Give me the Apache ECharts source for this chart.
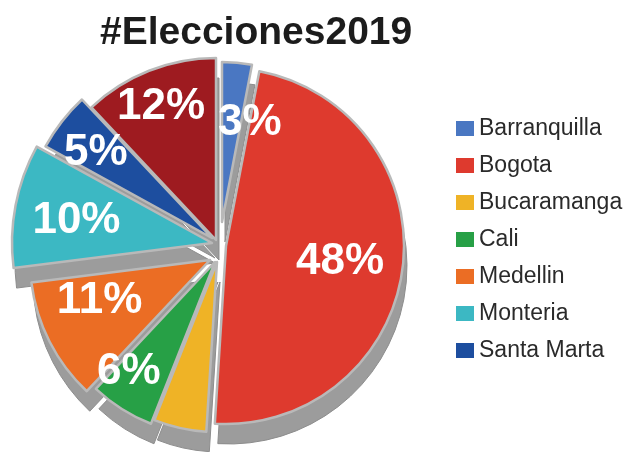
<!DOCTYPE html>
<html>
<head>
<meta charset="utf-8">
<script src="https://cdn.jsdelivr.net/npm/echarts@6/dist/echarts.min.js"></script>
<style>
  html, body { margin: 0; padding: 0; background: #ffffff; }
  #chart { width: 628px; height: 452px; }
</style>
</head>
<body>
<div id="chart"></div>
<script>
// Vote share per city, listed clockwise from 12 o'clock
const cities = ['Barranquilla', 'Bogota', 'Bucaramanga', 'Cali', 'Medellin', 'Monteria', 'Santa Marta', 'Otros'];
const shares = [3, 48, 5, 6, 11, 10, 5, 12];
const legendCities = ['Barranquilla', 'Bogota', 'Bucaramanga', 'Cali', 'Medellin', 'Monteria', 'Santa Marta'];
const colors = ['#4a77c2', '#de3a2e', '#efb326', '#27a046', '#eb6d24', '#3cb8c3', '#1d4e9f', '#9e1b20'];

// Exploded, tilted look: every wedge has its own centre and radius,
// its label sits on a separate ring (centre + distance from that centre)
const wedgeLayout = [
  { c: [222, 222], r: 160, lc: [240, 227], d: 102 },
  { c: [226, 246], r: 178, lc: [224, 247], d: 114 },
  { c: [217, 262], r: 170, lc: [217, 263], d: 141 },
  { c: [215, 262], r: 174, lc: [200, 260], d: 130 },
  { c: [210, 260], r: 180, lc: [210, 245], d: 121 },
  { c: [212, 243], r: 200, lc: [212, 247], d: 135 },
  { c: [212, 238], r: 190, lc: [212, 243], d: 144 },
  { c: [216, 240], r: 182, lc: [216, 245], d: 146 }
];
const sideShift = [3, 20];  // offset of the grey side under each wedge
const hidden = { color: 'rgba(0,0,0,0)', borderWidth: 0 };

function wedgeData(k, style, withLabel) {
  return cities.map((name, j) => ({
    name: name,
    value: shares[j],
    itemStyle: j === k ? style : hidden,
    label: { show: withLabel && j === k }
  }));
}

function pieBase(center, radius) {
  return {
    type: 'pie',
    center: center,
    radius: radius,
    startAngle: 90,
    clockwise: true,
    avoidLabelOverlap: false,
    labelLine: { show: false },
    emphasis: { disabled: true },
    silent: true,
    animation: false
  };
}

const series = [];
// grey sides first
cities.forEach((_, k) => {
  const L = wedgeLayout[k];
  series.push(Object.assign(pieBase([L.c[0] + sideShift[0], L.c[1] + sideShift[1]], L.r), {
    z: 1,
    label: { show: false },
    data: wedgeData(k, { color: '#9c9c9c', borderColor: '#8d8d8d', borderWidth: 1 }, false)
  }));
});
// coloured tops
cities.forEach((_, k) => {
  const L = wedgeLayout[k];
  series.push(Object.assign(pieBase(L.c, L.r), {
    z: 2,
    label: { show: false },
    data: wedgeData(k, { color: colors[k], borderColor: '#b9b9b9', borderWidth: 2.5 }, false)
  }));
});
// percentage labels
cities.forEach((_, k) => {
  const L = wedgeLayout[k];
  series.push(Object.assign(pieBase(L.lc, L.d * 2), {
    z: 3,
    label: {
      position: 'inside',
      formatter: '{c}%',
      color: '#ffffff',
      fontFamily: 'Liberation Sans',
      fontWeight: 'bold',
      fontSize: 44,
      textBorderWidth: 0
    },
    data: wedgeData(k, hidden, true)
  }));
});

const chart = echarts.init(document.getElementById('chart'), null, { renderer: 'canvas' });
chart.setOption({
  backgroundColor: '#ffffff',
  animation: false,
  title: {
    text: '#Elecciones2019',
    left: 95,
    top: 9,
    textStyle: {
      fontFamily: 'Liberation Sans',
      fontWeight: 'bold',
      fontSize: 39,
      color: '#1c1c1c'
    }
  },
  legend: {
    orient: 'vertical',
    left: 451,
    top: 112,
    icon: 'rect',
    itemWidth: 18,
    itemHeight: 15,
    itemGap: 14,
    selectedMode: false,
    itemStyle: { borderWidth: 0 },
    textStyle: { fontFamily: 'Liberation Sans', fontSize: 23, color: '#2a2a2a' },
    data: legendCities.map((name, i) => ({ name: name, itemStyle: { color: colors[i], borderWidth: 0 } }))
  },
  series: series
});
</script>
</body>
</html>
